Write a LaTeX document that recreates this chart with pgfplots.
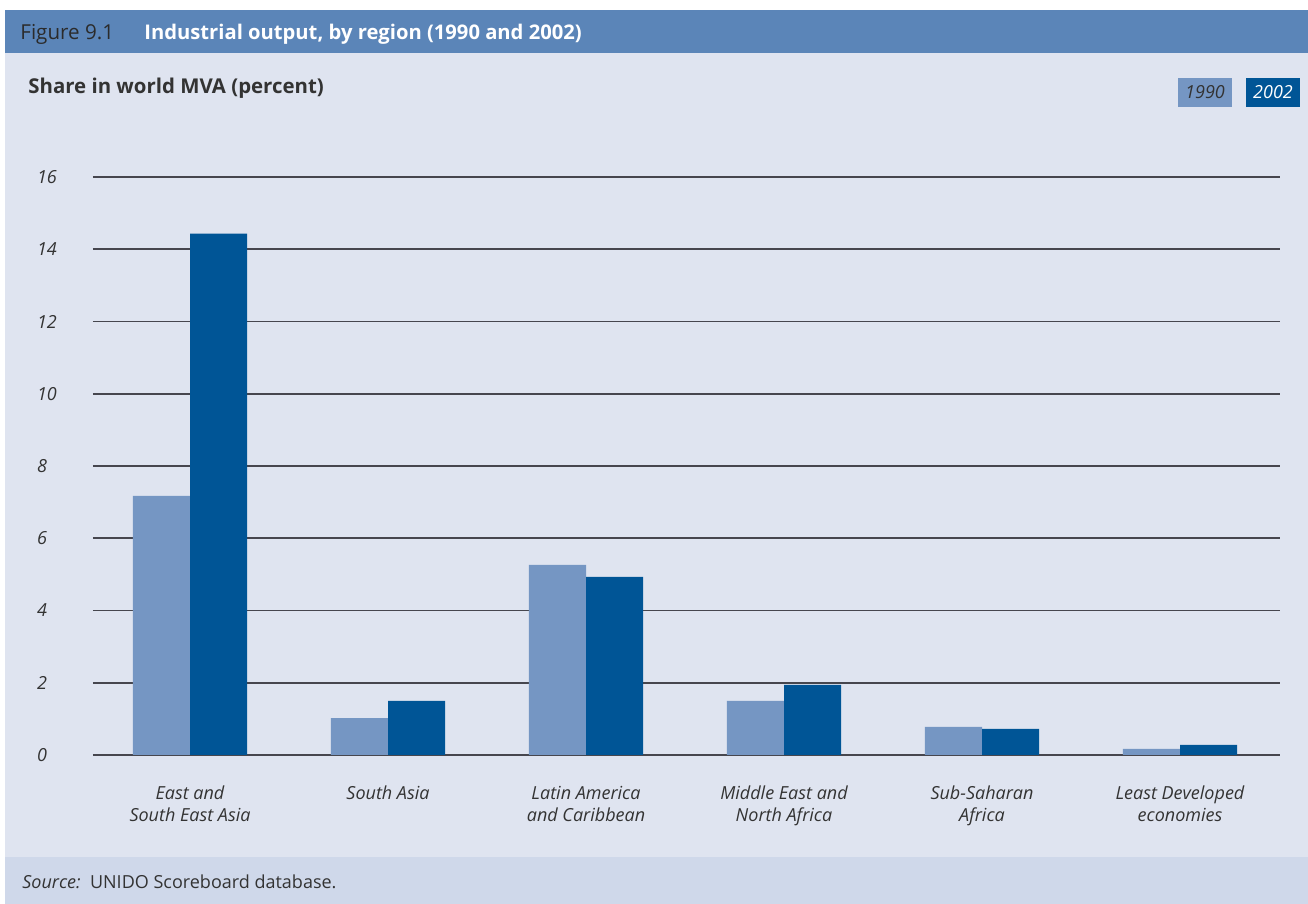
\documentclass[border=0pt]{standalone}
\usepackage{fontspec}
\setmainfont{Open Sans}
\usepackage{pgfplots}
\pgfplotsset{compat=1.18}
\definecolor{barhead}{RGB}{91,133,184}
\definecolor{panel}{RGB}{223,228,240}
\definecolor{srcbar}{RGB}{207,216,234}
\definecolor{c1990}{RGB}{117,150,195}
\definecolor{c2002}{RGB}{0,85,150}
\definecolor{ink}{RGB}{51,51,51}
\definecolor{gridc}{RGB}{70,70,78}
\begin{document}
\begin{tikzpicture}
% coordinates in reference pixels, 1px = 0.5pt, origin bottom left
\begin{scope}[x=0.5pt,y=0.5pt]
\useasboundingbox (0,0) rectangle (1308,904);
\fill[white] (0,0) rectangle (1308,904);
\fill[panel] (5,0) rectangle (1308,894);
\fill[barhead] (5,894) rectangle (1308,851);
\fill[srcbar] (5,47) rectangle (1308,0);
\node[anchor=base west,inner sep=0,text=ink!85!black,font=\fontsize{10.3}{12}\selectfont] at (20,864) {Figure 9.1};
\node[anchor=base west,inner sep=0,text=white,font=\fontsize{10.1}{12}\selectfont\bfseries] at (144,864) {Industrial output, by region (1990 and 2002)};
\node[anchor=base west,inner sep=0,text=ink,font=\fontsize{10.2}{12}\selectfont\bfseries] at (28,810) {Share in world MVA (percent)};
\node[anchor=base west,inner sep=0,text=ink,font=\fontsize{9}{11}\selectfont] at (22,15) {\textit{Source:}\ \ UNIDO Scoreboard database.};
% legend keys
\fill[c1990] (1178,826) rectangle (1232,797);
\fill[c2002] (1246,826) rectangle (1300,797);
\node[text=ink,font=\fontsize{9}{11}\selectfont\itshape] at (1205,811.5) {1990};
\node[text=white,font=\fontsize{9}{11}\selectfont\itshape] at (1273,811.5) {2002};
\coordinate (org) at (93,149);
\end{scope}
\begin{axis}[
  at={(org)}, anchor=south west,
  scale only axis, width=593.5pt, height=289pt,
  ybar, bar width=0.288,
  xmin=-0.49, xmax=5.505, ymin=0, ymax=16,
  ytick={0,2,...,16},
  xtick={0,1,2,3,4,5},
  xticklabels={{East and\\South East Asia},{South Asia},{Latin America\\and Caribbean},{Middle East and\\North Africa},{Sub-Saharan\\Africa},{Least Developed\\economies}},
  x tick label style={align=center,text=ink,font=\fontsize{9}{11}\selectfont\itshape,yshift=-12pt},
  y tick label style={anchor=west,xshift=-31.5pt,text=ink,font=\fontsize{9}{11}\selectfont\itshape,
    /pgf/number format/assume math mode=true},
  major tick length=0pt,
  axis line style={draw=none},
  ymajorgrids, grid style={gridc,line width=0.8pt},
  clip=false,
]
\addplot[fill=c1990,draw=none,bar shift=-0.144] coordinates {(0,7.17) (1,1.02) (2,5.26) (3,1.50) (4,0.78) (5,0.17)};
\addplot[fill=c2002,draw=none,bar shift=0.144] coordinates {(0,14.43) (1,1.50) (2,4.93) (3,1.94) (4,0.72) (5,0.28)};
\end{axis}
\end{tikzpicture}
\end{document}
